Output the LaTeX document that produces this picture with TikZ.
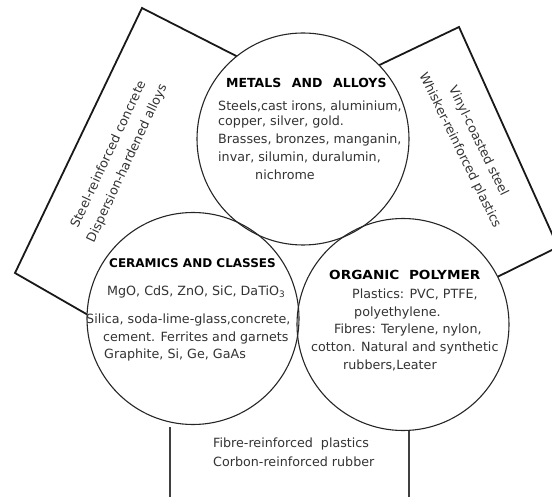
\documentclass[tikz,border=0pt]{standalone}
\usepackage{fontspec}
\setmainfont{DejaVu Sans}
\usepackage{graphicx}
\begin{document}
\begin{tikzpicture}[x=1pt,y=-1pt,
  rect/.style={line width=1.8pt, draw=black!90, line join=miter},
  ring/.style={circle, draw=black!85, line width=1.1pt, minimum size=212pt, inner sep=0pt},
  body/.style={anchor=base west, inner sep=0pt, text=black!80, font=\fontsize{12.7}{15}\selectfont},
  head/.style={anchor=base west, inner sep=0pt, text=black, font=\bfseries\fontsize{12.5}{15}\selectfont},
  side/.style={align=center, inner sep=0pt, text=black!80, font=\fontsize{12.7}{20.5}\selectfont}
]
\useasboundingbox (0,0) rectangle (552,497);
\clip (0,0) rectangle (552,497);

% rectangles (behind the circles)
\coordinate (l1) at (248,62);
\coordinate (l2) at (142,8);
\coordinate (l3) at (15,273);
\coordinate (l4) at (95,319);
\draw[rect] (l1) -- (l2) -- (l3) -- (l4);
\coordinate (r1) at (369,70);
\coordinate (r2) at (459,27);
\coordinate (r3) at (558,247);
\coordinate (r4) at (487,282);
\draw[rect] (r1) -- (r2) -- (r3) -- (r4);
\coordinate (b1) at (170,427);
\coordinate (b2) at (170,505);
\coordinate (b3) at (409,400);
\coordinate (b4) at (409,505);
\draw[rect, line width=1.5pt, draw=black!75] (b1) -- (b2);
\draw[rect, line width=1.5pt, draw=black!75] (b3) -- (b4);

% circles: white fills first, outlines after
\fill[white] (303,139) circle[radius=106pt];
\fill[white] (193,318.5) circle[radius=106pt];
\fill[white] (403,324.5) circle[radius=106pt];
\node[ring] (metals) at (303,139) {};
\node[ring] (ceramics) at (193,318.5) {};
\node[ring] (organic) at (403,324.5) {};

% metals text
\node[head] (mh) at (226,88) {METALS\hspace{0.85em}AND\hspace{0.85em}ALLOYS};
\node[body] (m1) at (218,110.5) {Steels,cast irons, aluminium,};
\node[body] (m2) at (218,126) {copper, silver, gold.};
\node[body] (m3) at (218,143.5) {Brasses, bronzes, manganin,};
\node[body] (m4) at (218,161.5) {invar, silumin, duralumin,};
\node[body] (m5) at (255,180) {nichrome};

% ceramics text
\node[head, font=\bfseries\fontsize{12}{15}\selectfont] (ch) at (109,268) {CERAMICS AND CLASSES};
\node[body] (c1) at (107,295.5) {MgO, CdS, ZnO, SiC, DaTiO\textsubscript{3}};
\node[body] (c2) at (86,323.5) {Silica, soda-lime-glass,concrete,};
\node[body] (c3) at (103,341.5) {cement. Ferrites and garnets};
\node[body] (c4) at (104,358.5) {Graphite, Si, Ge, GaAs};

% organic text
\node[head] (oh) at (329,280) {\scalebox{1.09}[1]{ORGANIC\hspace{0.7em}POLYMER}};
\node[body] (o1) at (352,298.5) {Plastics: PVC, PTFE,};
\node[body] (o2) at (354,316.5) {polyethylene.};
\node[body] (o3) at (334,333.5) {Fibres: Terylene, nylon,};
\node[body] (o4) at (311,351.5) {cotton. Natural and synthetic};
\node[body] (o5) at (343,369.5) {rubbers,Leater};

% side texts
\node[side, rotate=65] (lt) at (118,159) {Steel-reinforced concrete\\Dispersion-hardened alloys};
\node[side, rotate=-64] (rt) at (469,146) {Vinyl-coasted steel\\Whisker-reinforced plastics};
\node[body] (bt1) at (213,447.5) {Fibre-reinforced\ \ plastics};
\node[body] (bt2) at (213,466.5) {Corbon-reinforced rubber};
\end{tikzpicture}
\end{document}
